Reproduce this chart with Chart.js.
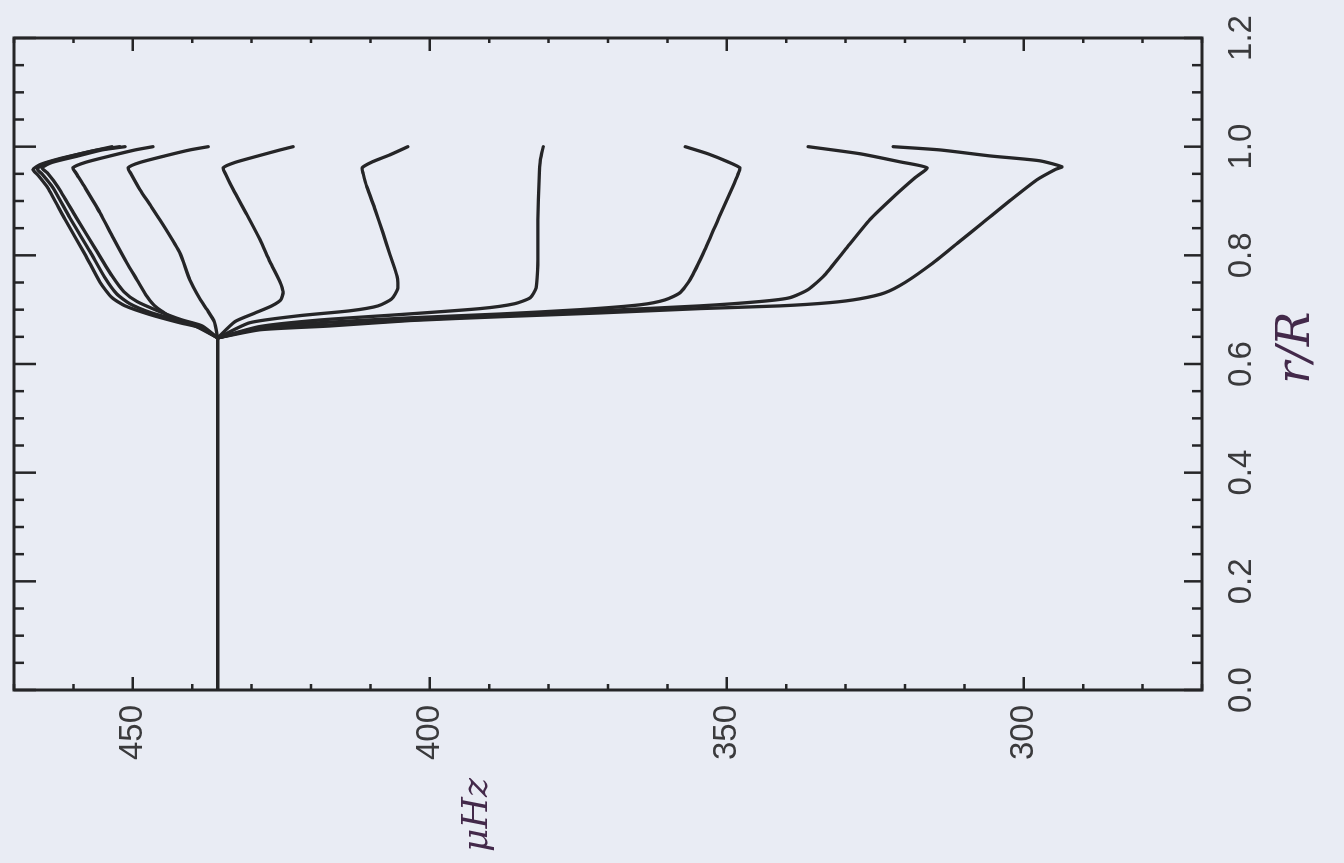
<!DOCTYPE html>
<html>
<head>
<meta charset="utf-8">
<script src="https://cdn.jsdelivr.net/npm/chart.js@4"></script>
<style>
  html, body { margin: 0; padding: 0; width: 1344px; height: 863px; overflow: hidden; background: #e9ecf4; }
  /* the figure is drawn upright (r/R across, frequency up) and turned a quarter turn */
  #wrap { position: absolute; left: 0; top: 0; width: 863px; height: 1344px;
          transform-origin: 0 0; transform: translateY(863px) rotate(-90deg); }
  canvas { display: block; }
</style>
</head>
<body>
<div id="wrap"><canvas id="c" width="863" height="1344"></canvas></div>
<script>
// Tick labels
const rTicks = [0, 0.2, 0.4, 0.6, 0.8, 1.0, 1.2];
const freqTicks = [300, 350, 400, 450];

// Common core part shared by every mode (r/R, frequency in microHz)
const trunkR = [0, 0.648];
const trunkF = [435.7, 435.7];

// Individual branches, r/R and frequency in microHz
const aR = [0.648,0.667,0.676,0.691,0.707,0.722,0.750,0.801,0.866,0.924,0.948,0.958,0.967,0.978,0.989,1.000];
const aF = [435.7,438.7,442.1,447.1,451.3,453.5,455.5,458.0,461.4,464.3,466.0,466.8,465.6,462.3,458.0,453.5];

const bR = [0.648,0.669,0.680,0.694,0.711,0.729,0.759,0.807,0.869,0.924,0.950,0.959,0.969,0.982,0.993,1.000];
const bF = [435.7,438.7,442.1,446.8,450.5,452.7,454.7,457.2,460.6,463.4,465.3,466.1,464.8,460.6,456.4,452.2];

const cR = [0.648,0.670,0.681,0.698,0.715,0.733,0.762,0.810,0.871,0.926,0.952,0.961,0.971,0.983,0.994,1.000];
const cF = [435.7,438.3,441.7,445.8,449.3,451.5,453.5,456.2,459.6,462.6,464.4,465.3,463.6,459.2,455.2,451.3];

const dR = [0.648,0.670,0.685,0.707,0.724,0.755,0.786,0.832,0.878,0.924,0.952,0.961,0.971,0.983,0.994,1.000];
const dF = [435.7,439.5,443.4,446.3,447.6,449.3,451.0,453.3,455.5,458.0,459.6,460.1,458.0,453.8,449.6,446.6];

const eR = [0.648,0.678,0.700,0.720,0.755,0.805,0.851,0.893,0.921,0.950,0.961,0.971,0.983,0.994,1.000];
const eF = [435.7,436.3,437.5,438.7,440.4,442.1,444.6,447.1,448.8,450.3,450.8,448.8,444.6,440.4,437.3];

const fR = [0.648,0.678,0.694,0.707,0.718,0.733,0.751,0.788,0.829,0.875,0.921,0.948,0.961,0.971,0.983,0.994,1.000];
const fF = [435.7,432.8,429.4,426.6,425.1,424.7,425.2,426.9,428.6,430.8,433.1,434.3,434.8,432.8,428.9,425.2,423.0];

const gR = [0.648,0.676,0.689,0.698,0.707,0.720,0.738,0.761,0.801,0.842,0.884,0.926,0.950,0.961,0.972,0.985,1.000];
const gF = [435.7,430.3,421.9,413.4,408.7,406.4,405.4,405.5,406.7,407.9,409.2,410.6,411.2,411.4,409.7,406.7,403.7];

const hR = [0.648,0.669,0.681,0.691,0.702,0.711,0.722,0.740,0.792,0.866,0.939,0.976,1.000];
const hF = [435.7,428.6,418.5,405.0,391.5,385.7,383.1,382.1,381.8,381.8,381.6,381.4,380.9];

const iR = [0.648,0.667,0.676,0.685,0.692,0.700,0.709,0.718,0.731,0.755,0.810,0.875,0.924,0.950,0.961,0.972,0.987,1.000];
const iF = [435.7,428.6,418.5,403.3,388.2,374.7,364.6,360.4,357.9,356.2,353.7,351.1,349.1,348.1,347.8,349.8,353.2,357.0];

const jR = [0.648,0.665,0.672,0.681,0.689,0.698,0.707,0.715,0.722,0.737,0.764,0.810,0.866,0.910,0.943,0.961,0.972,0.987,1.000];
const jF = [435.7,428.6,416.8,403.3,388.2,371.3,354.5,344.4,339.4,336.3,333.5,330.1,325.9,321.7,318.3,316.3,320.8,327.6,336.3];

const kR = [0.648,0.663,0.670,0.680,0.687,0.694,0.702,0.707,0.713,0.720,0.731,0.750,0.786,0.823,0.860,0.901,0.939,0.958,0.963,0.974,0.983,0.994,1.000];
const kF = [435.7,428.6,416.8,403.3,388.2,371.3,354.5,341.0,332.6,327.6,323.4,320.0,315.3,311.1,306.9,302.3,297.8,294.7,293.6,297.3,305.7,314.1,322.0];

const curves = [
  [trunkR, trunkF],
  [aR, aF], [bR, bF], [cR, cF], [dR, dF], [eR, eF], [fR, fF],
  [gR, gF], [hR, hF], [iR, iF], [jR, jF], [kR, kF]
];

const ink = '#252527';
const labelInk = '#3a3a3c';
const penInk = '#43294a';

const datasets = curves.map(([rs, fs], n) => ({
  data: rs.map((r, k) => ({ x: r, y: fs[k] })),
  showLine: true,
  borderColor: ink,
  borderWidth: 3.3,
  borderJoinStyle: 'round',
  borderCapStyle: 'round',
  pointRadius: 0,
  tension: n === 0 ? 0 : 0.2,
  fill: false
}));

// Boxed frame with inward major and minor ticks on all four sides, plus the pen-written axis names
const frameTicks = {
  id: 'frameTicks',
  afterDraw(chart) {
    const { ctx, chartArea: a, scales: { x, y } } = chart;
    ctx.save();
    ctx.strokeStyle = ink;
    ctx.lineCap = 'butt';
    ctx.lineWidth = 2.5;
    ctx.beginPath();
    for (let i = 0; i <= 24; i++) {
      const px = x.getPixelForValue(i * 0.05);
      const major = i % 4 === 0;
      ctx.moveTo(px, a.bottom); ctx.lineTo(px, a.bottom - (major ? 18 : 10));
      ctx.moveTo(px, a.top); ctx.lineTo(px, a.top + (major ? 22 : 10));
    }
    for (let v = 270; v <= 470; v += 10) {
      const py = y.getPixelForValue(v);
      const major = v % 50 === 0;
      ctx.moveTo(a.left, py); ctx.lineTo(a.left + (major ? 13 : 6), py);
      ctx.moveTo(a.right, py); ctx.lineTo(a.right - (major ? 13 : 5), py);
    }
    ctx.stroke();
    ctx.lineWidth = 3;
    ctx.strokeRect(a.left, a.top, a.right - a.left, a.bottom - a.top);

    ctx.fillStyle = penInk;
    ctx.textAlign = 'center';
    ctx.textBaseline = 'middle';
    ctx.font = 'italic 46px "DejaVu Serif"';
    ctx.fillText('r/R', x.getPixelForValue(0.63), 1297);
    ctx.font = 'italic 36px "DejaVu Serif"';
    ctx.fillText('\u03bcHz', 48, y.getPixelForValue(392));
    ctx.restore();
  }
};

new Chart(document.getElementById('c'), {
  type: 'scatter',
  data: { datasets },
  options: {
    responsive: false,
    devicePixelRatio: 1,
    animation: false,
    events: [],
    layout: { padding: { top: 14, right: 38, left: 0, bottom: 0 } },
    plugins: { legend: { display: false }, tooltip: { enabled: false } },
    scales: {
      x: {
        type: 'linear', position: 'bottom', min: 0, max: 1.2,
        grid: { display: false, drawTicks: false },
        border: { display: false },
        afterBuildTicks: s => { s.ticks = rTicks.map(v => ({ value: v })); },
        afterFit: s => { s.height = 142; s.paddingLeft = 0; s.paddingRight = 0; },
        ticks: {
          padding: 20, color: labelInk,
          font: { family: 'Liberation Sans', size: 33 },
          callback: v => Number(v).toFixed(1)
        }
      },
      y: {
        type: 'linear', position: 'left', min: 270, max: 470,
        grid: { display: false, drawTicks: false },
        border: { display: false },
        afterBuildTicks: s => { s.ticks = freqTicks.map(v => ({ value: v })); },
        afterFit: s => { s.width = 173; s.paddingTop = 0; s.paddingBottom = 0; },
        ticks: {
          padding: 15, color: labelInk,
          font: { family: 'Liberation Sans', size: 33 },
          callback: v => String(v)
        }
      }
    }
  },
  plugins: [frameTicks]
});
</script>
</body>
</html>
